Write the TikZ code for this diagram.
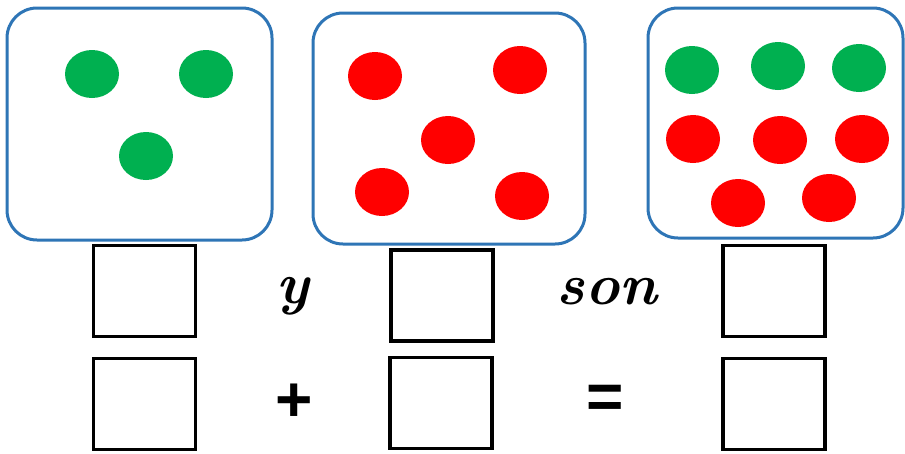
\documentclass[tikz,border=0pt]{standalone}
\usepackage{fontspec}
\usepackage{tikz}
\usetikzlibrary{positioning}
\newfontfamily\signfont{Liberation Sans}
\definecolor{boxblue}{HTML}{2E75B6}
\definecolor{dotgreen}{HTML}{00B050}
\definecolor{dotred}{HTML}{FF0000}

\begin{document}
\begin{tikzpicture}[x=1pt,y=-1pt,
	setbox/.style={draw=boxblue,line width=3pt,rounded corners=30pt,fill=white},
	answer/.style={draw=black,line width=3.5pt,minimum width=102pt,minimum height=91pt,inner sep=0pt},
	word/.style={font=\fontsize{58}{58}\selectfont\bfseries\itshape,inner sep=0pt},
	sign/.style={font=\signfont\bfseries\fontsize{64}{64}\selectfont,inner sep=0pt},
	green dot/.style={fill=dotgreen},
	red dot/.style={fill=dotred}]
	\useasboundingbox (0,0) rectangle (905,453);

	% the three sets
	\node[setbox,minimum width=265pt,minimum height=232pt] (setA) at (139.5,124) {};
	\node[setbox,minimum width=272pt,minimum height=231pt] (setB) at (449,128.5) {};
	\node[setbox,minimum width=255pt,minimum height=230pt] (setC) at (775.5,123) {};

	% dots of the first set
	\fill[green dot] (92,74) ellipse (27pt and 24pt);
	\fill[green dot] (206,74) ellipse (27pt and 24pt);
	\fill[green dot] (146,156) ellipse (27pt and 24pt);

	% dots of the second set
	\fill[red dot] (375,76) ellipse (27pt and 24pt);
	\fill[red dot] (520,70) ellipse (27pt and 24pt);
	\fill[red dot] (448,140) ellipse (27pt and 24pt);
	\fill[red dot] (382,192) ellipse (27pt and 24pt);
	\fill[red dot] (522,196) ellipse (27pt and 24pt);

	% dots of the whole set
	\fill[green dot] (692,70) ellipse (27pt and 24pt);
	\fill[green dot] (778,66) ellipse (27pt and 24pt);
	\fill[green dot] (859,68) ellipse (27pt and 24pt);
	\fill[red dot] (693,139) ellipse (27pt and 24pt);
	\fill[red dot] (780,140) ellipse (27pt and 24pt);
	\fill[red dot] (862,139) ellipse (27pt and 24pt);
	\fill[red dot] (738,203) ellipse (27pt and 24pt);
	\fill[red dot] (829,198) ellipse (27pt and 24pt);

	% sentence row
	\node[answer] (a1) at (144.5,291) {};
	\node[answer] (b1) at (442,295.5) {};
	\node[answer] (c1) at (774,291) {};
	\node[word] (y) at (293,296) {y};
	\node[word] (son) at (607,292) {son};

	% sum row
	\node[answer] (a2) at (144.5,404) {};
	\node[answer] (b2) at (441,403) {};
	\node[answer] (c2) at (774,404) {};
	\node[sign] (plus) at (294,403) {+};
	\node[sign] (equals) at (605,402) {=};
\end{tikzpicture}
\end{document}
